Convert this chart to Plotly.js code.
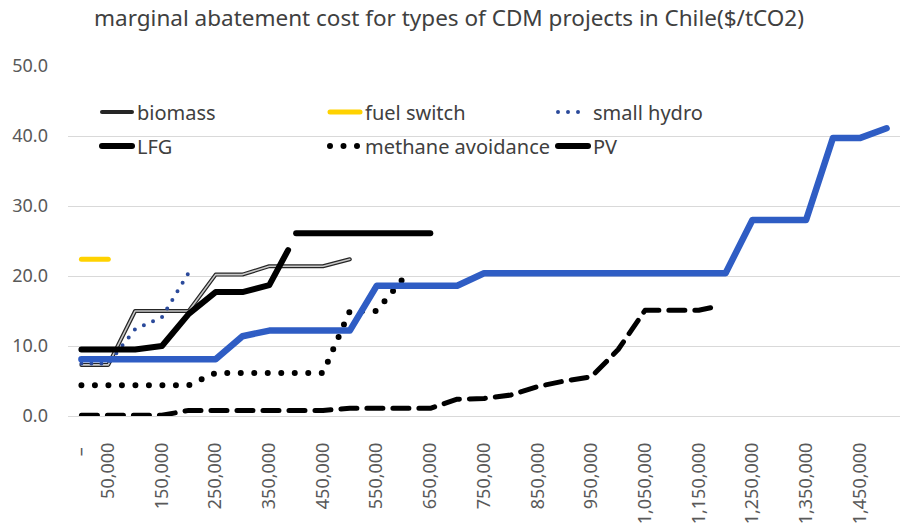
<!DOCTYPE html>
<html>
<head>
<meta charset="utf-8">
<script src="https://cdn.plot.ly/plotly-3.0.1.min.js"></script>
<style>
html,body{margin:0;padding:0;background:#fff;}
#chart{width:908px;height:531px;}
.js-line{stroke-linecap:round !important;stroke-linejoin:round !important;}
</style>
</head>
<body>
<div id="chart"></div>
<script>
// x: cumulative reduction (tCO2), y: marginal abatement cost ($/tCO2)
const biomassX = [0, 50000, 100000, 150000, 200000, 250000, 300000, 350000, 400000, 450000, 500000];
const biomassY = [7.3, 7.3, 15.0, 15.0, 15.0, 20.2, 20.2, 21.4, 21.4, 21.4, 22.4];

const fuelSwitchX = [0, 50000];
const fuelSwitchY = [22.4, 22.4];

const smallHydroX = [0, 50000, 100000, 150000, 200000];
const smallHydroY = [7.5, 7.5, 12.4, 14.1, 20.5];

const lfgX = [0, 50000, 100000, 150000, 200000, 250000, 300000, 350000, 385000];
const lfgY = [9.5, 9.5, 9.5, 10.0, 14.6, 17.7, 17.7, 18.7, 23.7];

const methaneX = [0, 50000, 100000, 150000, 200000, 250000, 300000, 350000, 400000, 450000, 500000, 550000, 600000];
const methaneY = [4.4, 4.4, 4.4, 4.4, 4.4, 6.15, 6.15, 6.15, 6.15, 6.15, 15.0, 15.0, 19.7];

const pvX = [400000, 450000, 500000, 550000, 600000, 650000];
const pvY = [26.1, 26.1, 26.1, 26.1, 26.1, 26.1];

const blueX = [0, 50000, 100000, 150000, 200000, 250000, 300000, 350000, 400000, 450000, 500000,
  550000, 600000, 650000, 700000, 750000, 800000, 850000, 900000, 950000, 1000000,
  1050000, 1100000, 1150000, 1200000, 1250000, 1300000, 1350000, 1400000, 1450000, 1500000];
const blueY = [8.1, 8.1, 8.1, 8.1, 8.1, 8.1, 11.4, 12.2, 12.2, 12.2, 12.2,
  18.6, 18.6, 18.6, 18.6, 20.4, 20.4, 20.4, 20.4, 20.4, 20.4,
  20.4, 20.4, 20.4, 20.4, 28.0, 28.0, 28.0, 39.7, 39.7, 41.1];

const dashedX = [0, 50000, 100000, 150000, 200000, 250000, 300000, 350000, 400000, 450000, 500000,
  550000, 600000, 650000, 700000, 750000, 800000, 850000, 900000, 950000, 1000000,
  1050000, 1100000, 1150000, 1175000];
const dashedY = [0.1, 0.1, 0.1, 0.1, 0.8, 0.8, 0.8, 0.8, 0.8, 0.8, 1.1,
  1.1, 1.1, 1.1, 2.4, 2.5, 3.0, 4.2, 5.0, 5.6, 9.5,
  15.1, 15.1, 15.1, 15.5];

const tickVals = [0, 50000, 150000, 250000, 350000, 450000, 550000, 650000, 750000, 850000, 950000,
  1050000, 1150000, 1250000, 1350000, 1450000];
const tickText = ['–\u00a0', '50,000', '150,000', '250,000', '350,000', '450,000', '550,000', '650,000',
  '750,000', '850,000', '950,000', '1,050,000', '1,150,000', '1,250,000', '1,350,000', '1,450,000'];

const titleText = 'marginal abatement cost for types of CDM projects in Chile($/tCO2)';
const FONT = 'Noto Sans, sans-serif';

const traces = [
  {x: biomassX, y: biomassY, name: 'biomass', mode: 'lines', legend: 'legend',
   line: {color: '#262626', width: 4}},
  {x: biomassX, y: biomassY, name: 'biomass', mode: 'lines', showlegend: false,
   line: {color: '#C8C8C8', width: 1.6}},
  {x: fuelSwitchX, y: fuelSwitchY, name: 'fuel switch', mode: 'lines', legend: 'legend',
   line: {color: '#FFD200', width: 5}},
  {x: smallHydroX, y: smallHydroY, name: 'small hydro', mode: 'lines', legend: 'legend',
   line: {color: '#2B4A9B', width: 4, dash: '0px,10px'}},
  {x: lfgX, y: lfgY, name: 'LFG', mode: 'lines', legend: 'legend2',
   line: {color: '#000000', width: 6}},
  {x: methaneX, y: methaneY, name: 'methane avoidance', mode: 'lines', legend: 'legend2',
   line: {color: '#000000', width: 6, dash: '0px,13.5px'}},
  {x: pvX, y: pvY, name: 'PV', mode: 'lines', legend: 'legend2',
   line: {color: '#000000', width: 6}},
  {x: blueX, y: blueY, mode: 'lines', showlegend: false,
   line: {color: '#2F5DC4', width: 6.5}},
  {x: dashedX, y: dashedY, mode: 'lines', showlegend: false,
   line: {color: '#000000', width: 5, dash: '16px,10px'}}
];

// plot area: x 68..900 px, y 66..415.7 px
const legendCommon = {
  orientation: 'h', xref: 'paper', yref: 'paper', xanchor: 'left', yanchor: 'middle',
  bgcolor: 'rgba(0,0,0,0)', borderwidth: 0,
  font: {family: FONT, size: 20, color: '#404040'},
  entrywidth: 183, entrywidthmode: 'pixels', traceorder: 'normal'
};

const layout = {
  width: 908, height: 531,
  paper_bgcolor: '#ffffff', plot_bgcolor: '#ffffff',
  margin: {l: 68, r: 8, t: 66, b: 115, pad: 0, autoexpand: false},
  font: {family: FONT, color: '#595959'},
  title: {text: titleText, font: {family: FONT, size: 22.5, color: '#404040'},
          x: 0.4945, xref: 'container', xanchor: 'center', y: 1 - 18 / 531, yref: 'container', yanchor: 'middle'},
  xaxis: {
    type: 'linear', range: [-25000, 1525000],
    showgrid: false, zeroline: false, showline: false, ticks: '',
    tickmode: 'array', tickvals: tickVals, ticktext: tickText, tickangle: -90,
    ticklabelstandoff: 22, automargin: false,
    tickfont: {family: FONT, size: 18, color: '#595959'}
  },
  yaxis: {
    range: [0, 50], dtick: 10, tick0: 0, tickformat: '.1f',
    showgrid: true, gridcolor: '#D9D9D9', gridwidth: 1,
    zeroline: true, zerolinecolor: '#D9D9D9', zerolinewidth: 1,
    showline: false, ticks: '', ticklabelstandoff: 19, automargin: false,
    tickfont: {family: FONT, size: 18, color: '#595959'}
  },
  legend: Object.assign({}, legendCommon, {x: (97 - 68) / 832, y: (415.7 - 112) / 349.7}),
  legend2: Object.assign({}, legendCommon, {x: (97 - 68) / 832, y: (415.7 - 146) / 349.7}),
  showlegend: true,
  hovermode: false
};

Plotly.newPlot('chart', traces, layout, {staticPlot: true, displayModeBar: false});
</script>
</body>
</html>
